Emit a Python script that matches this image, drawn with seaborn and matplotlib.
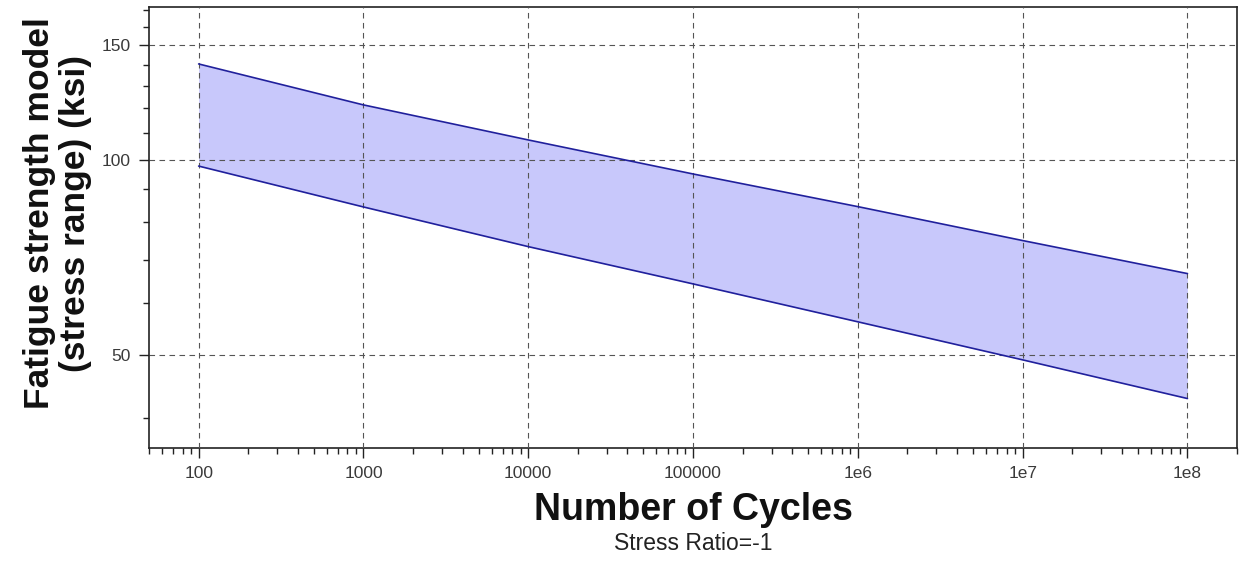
import numpy as np
import pandas as pd
import matplotlib
matplotlib.use("Agg")
import matplotlib.pyplot as plt
import matplotlib.ticker as mticker
import seaborn as sns

cycles = [1e2, 1e3, 1e4, 1e5, 1e6, 1e7, 1e8]
upper = [140.4, 121.4, 107.2, 95.0, 84.6, 75.0, 66.7]
lower = [97.7, 84.5, 73.4, 64.3, 56.2, 49.1, 42.8]
xtick_vals = [1e2, 1e3, 1e4, 1e5, 1e6, 1e7, 1e8]
xtick_labels = ["100", "1000", "10000", "100000", "1e6", "1e7", "1e8"]
ytick_vals = [50, 100, 150]
ytick_labels = ["50", "100", "150"]

sns.set_theme(style="white")
plt.rcParams['font.family'] = ['Liberation Sans', 'DejaVu Sans']

fig = plt.figure(figsize=(12.42, 5.65), dpi=100)
ax = fig.add_axes([0.12, 0.207, 0.876, 0.781])

df = pd.DataFrame({"cycles": cycles * 2,
                   "stress": upper + lower,
                   "bound": ["upper"] * len(cycles) + ["lower"] * len(cycles)})

ax.fill_between(cycles, lower, upper, color="#c8c8fb", linewidth=0, zorder=1)
sns.lineplot(data=df, x="cycles", y="stress", units="bound", estimator=None,
             color="#20209c", linewidth=1.2, ax=ax, zorder=3)

ax.set_xscale("log")
ax.set_yscale("log")
ax.set_xlim(50, 2e8)
ax.set_ylim(35.9, 172)

ax.xaxis.set_major_locator(mticker.FixedLocator(xtick_vals))
ax.xaxis.set_major_formatter(mticker.FixedFormatter(xtick_labels))
ax.xaxis.set_minor_locator(mticker.LogLocator(base=10, subs=np.arange(2, 10), numticks=20))
ax.xaxis.set_minor_formatter(mticker.NullFormatter())

ax.yaxis.set_major_locator(mticker.FixedLocator(ytick_vals))
ax.yaxis.set_major_formatter(mticker.FixedFormatter(ytick_labels))
ax.yaxis.set_minor_locator(mticker.FixedLocator([40, 60, 70, 80, 90, 110, 120, 130, 140, 160, 170]))
ax.yaxis.set_minor_formatter(mticker.NullFormatter())

ax.grid(True, which="major", linestyle=(0, (5, 4)), color="#555555", linewidth=0.8, zorder=2)
ax.set_axisbelow(False)
for sp in ax.spines.values():
    sp.set_color("#222222")
    sp.set_linewidth(1.2)

ax.tick_params(which="major", direction="out", length=7, width=1, color="#222222",
               labelsize=12.5, labelcolor="#3a3a3a", bottom=True, left=True, pad=6)
ax.tick_params(which="minor", direction="out", length=4, width=1, color="#222222",
               bottom=True, left=True)

ax.set_xlabel("Number of Cycles", fontsize=27, fontweight="bold", labelpad=8, color="#111111")
ax.set_ylabel("Fatigue strength model\n(stress range) (ksi)", fontsize=25.5,
              fontweight="bold", linespacing=1.15, color="#111111")
ax.yaxis.set_label_coords(-0.052, 0.532)
fig.text(0.558, 0.018, "Stress Ratio=-1", ha="center", va="bottom", fontsize=16.5, color="#222222")

fig.savefig("out.png", dpi=100)
